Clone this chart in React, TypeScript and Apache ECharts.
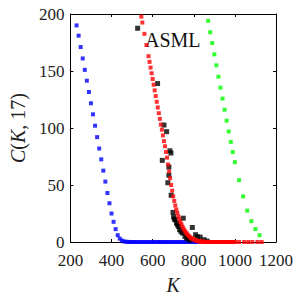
import React, { useEffect, useRef } from "react";
import * as echarts from "echarts";

const xTicks = [200, 400, 600, 800, 1000, 1200];
const yTicks = [0, 50, 100, 150, 200];

const blueK = [230, 240, 250, 260, 270, 280, 290, 300, 310, 320, 330, 340, 350, 360, 370, 380, 390, 400, 410, 420, 430, 440, 450, 460, 470, 480, 490, 500, 510, 520, 530, 540, 550, 560, 570, 580, 590, 600, 610, 620, 630, 640, 650, 660, 670, 680, 690, 700, 710, 720, 730, 740, 750, 760, 770, 780, 790, 800, 810, 820];
const blueC = [190, 181, 171, 161, 151, 141.5, 131.6, 121.7, 112, 102, 92, 82, 72.5, 62.6, 53, 43, 34, 25, 17.7, 11.3, 6, 3, 1.3, 0.5, 0.2, 0.1, 0, 0, 0, 0, 0, 0, 0, 0, 0, 0, 0, 0, 0, 0, 0, 0, 0, 0, 0, 0, 0, 0, 0, 0, 0, 0, 0, 0, 0, 0, 0, 0, 0, 0];

const redK = [545, 550, 560, 570, 580, 585, 590, 595, 600, 605, 610, 615, 620, 625, 630, 635, 640, 645, 650, 655, 660, 665, 670, 675, 680, 685, 690, 695, 700, 705, 710, 715, 720, 725, 730, 735, 740, 745, 750, 755, 760, 765, 770, 775, 780, 785, 790, 795, 800, 805, 810, 815, 820, 825, 830, 835, 840, 845, 850, 855, 860, 865, 870, 875, 880, 885, 890, 895, 900, 905, 910, 915, 920, 925, 930, 935, 940, 945, 950, 955, 960, 965, 970, 975, 980, 985, 990, 995, 1000, 1020, 1045, 1065, 1085, 1110, 1130];
const redC = [197.7, 192.5, 182.6, 172.8, 163, 158, 153, 148, 143, 138, 133, 128, 123, 118, 113, 108, 103, 98.5, 93.5, 88.5, 84, 79, 74, 68, 62, 56, 50, 45, 40, 36, 32, 28.5, 25.5, 22.5, 20, 17.5, 15.5, 13.5, 11.8, 10.2, 8.8, 7.6, 6.5, 5.5, 4.6, 3.8, 3.2, 2.6, 2.1, 1.7, 1.4, 1.1, 0.9, 0.7, 0.5, 0.4, 0.3, 0.2, 0.15, 0.1, 0, 0, 0, 0, 0, 0, 0, 0, 0, 0, 0, 0, 0, 0, 0, 0, 0, 0, 0, 0, 0, 0, 0, 0, 0, 0, 0, 0, 0, 0, 0, 0, 0, 0, 0];

const greenK = [870, 880, 890, 900, 910, 920, 930, 940, 950, 960, 970, 980, 990, 1000, 1020, 1040, 1060, 1080, 1100, 1120];
const greenC = [194, 184, 174.5, 164.6, 155, 145, 135.4, 125.8, 116, 106.4, 97, 87.8, 78.9, 70, 54.2, 40, 27.5, 18.3, 11.3, 6];

const blackK = [527, 624, 655, 668, 684, 689, 647, 679, 679, 674, 690, 699, 702, 706, 710, 716, 721, 726, 731, 738, 746, 749, 757, 765, 772, 780, 793, 809, 818, 831, 850, 865];
const blackC = [187.5, 139, 102.6, 96.8, 80, 78, 71.6, 65.8, 58.5, 52, 41, 26, 22, 20, 19.4, 16.5, 15, 13.6, 10.8, 9, 7.8, 20.9, 4.9, 3.5, 2.9, 1.5, 12.7, 6.4, 4.5, 4.3, 2.0, 0.8];

const label = "ASML";
const FONT = "Liberation Serif";

const zip = (a: number[], b: number[]) => a.map((v, i) => [v, b[i]]);

export default function App() {
  const ref = useRef<HTMLDivElement>(null);
  useEffect(() => {
    if (!ref.current) return;
    const chart = echarts.init(ref.current, null, { renderer: "svg" });
    const axisCommon = {
      axisLine: { show: true, onZero: false, lineStyle: { color: "#000", width: 1 } },
      axisTick: { show: true, inside: true, length: 3, lineStyle: { color: "#000" } },
      splitLine: { show: false },
    };
    const fmt = (v: number) => String(v);
    chart.setOption({
      animation: false,
      backgroundColor: "#fff",
      textStyle: { fontFamily: FONT },
      grid: { left: 63, right: 24, top: 14, bottom: 56, containLabel: false },
      xAxis: [
        {
          type: "value",
          min: xTicks[0],
          max: xTicks[xTicks.length - 1],
          interval: 200,
          position: "bottom",
          ...axisCommon,
          axisLabel: { fontFamily: FONT, fontSize: 17, color: "#222", margin: 10, formatter: fmt },
          name: "K",
          nameLocation: "middle",
          nameGap: 33,
          nameTextStyle: { fontFamily: FONT, fontSize: 20, fontStyle: "italic", color: "#222" },
        },
        {
          type: "value",
          min: xTicks[0],
          max: xTicks[xTicks.length - 1],
          interval: 200,
          position: "top",
          ...axisCommon,
          axisLabel: { show: false },
        },
      ],
      yAxis: [
        {
          type: "value",
          min: yTicks[0],
          max: yTicks[yTicks.length - 1],
          interval: 50,
          position: "left",
          ...axisCommon,
          axisLabel: { fontFamily: FONT, fontSize: 17, color: "#222", margin: 6, formatter: fmt },
          name: "{i|C}({i|K}, 17)",
          nameLocation: "middle",
          nameGap: 40,
          nameRotate: 90,
          nameTextStyle: {
            fontFamily: FONT,
            fontSize: 20,
            color: "#222",
            rich: { i: { fontFamily: FONT, fontSize: 20, fontStyle: "italic", color: "#222" } },
          },
        },
        {
          type: "value",
          min: yTicks[0],
          max: yTicks[yTicks.length - 1],
          interval: 50,
          position: "right",
          ...axisCommon,
          axisLabel: { show: false },
        },
      ],
      graphic: [
        {
          type: "text",
          x: 145,
          y: 40,
          style: { text: label, fontFamily: FONT, fontSize: 20, fill: "#111", verticalAlign: "middle" },
        },
      ],
      series: [
        { type: "scatter", data: zip(blueK, blueC), symbol: "rect", symbolSize: 4, itemStyle: { color: "#0000ff" }, clip: true },
        { type: "scatter", data: zip(greenK, greenC), symbol: "rect", symbolSize: 4, itemStyle: { color: "#00ff00" }, clip: true },
        { type: "scatter", data: zip(blackK, blackC), symbol: "rect", symbolSize: 5, itemStyle: { color: "#000" }, clip: true },
        { type: "scatter", data: zip(redK, redC), symbol: "rect", symbolSize: 4, itemStyle: { color: "#ff0000" }, clip: true },
      ],
    });
    return () => chart.dispose();
  }, []);
  return <div ref={ref} style={{ width: 300, height: 300, position: "absolute", left: 0, top: 0 }} />;
}
